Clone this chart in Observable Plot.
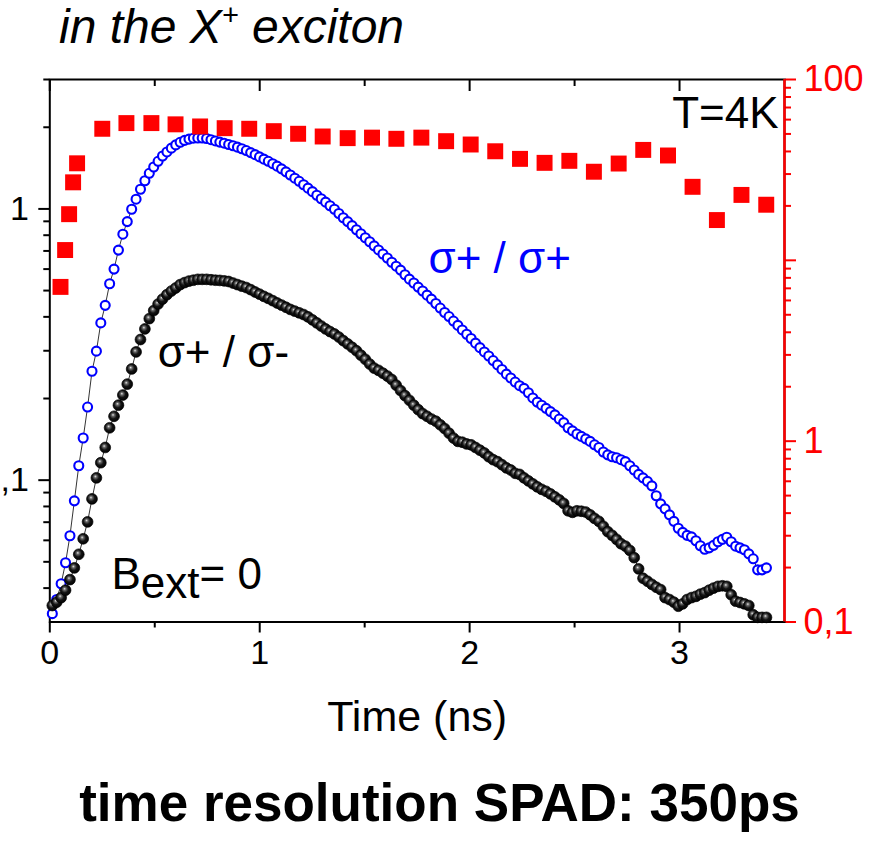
<!DOCTYPE html>
<html><head><meta charset="utf-8">
<script src="https://cdn.jsdelivr.net/npm/d3@7"></script>
<script src="https://cdn.jsdelivr.net/npm/@observablehq/plot@0.6"></script>
<style>
body{margin:0;background:#fff;font-family:"Liberation Sans",Arial,sans-serif;}
#wrap{width:879px;}
#title{height:60px;position:relative;}
#title span{position:absolute;left:59px;top:-1px;font-style:italic;font-size:48px;line-height:normal;white-space:nowrap;}
#title sup{font-size:0.6em;vertical-align:0;position:relative;top:-0.62em;line-height:0;}
#foot{height:95px;position:relative;}
#foot span{position:absolute;left:0;width:879px;text-align:center;top:12px;font-weight:bold;font-size:53px;line-height:normal;white-space:nowrap;}
</style></head><body>
<div id="wrap">
<div id="title"><span>in the X<sup>+</sup> exciton</span></div>
<div id="chart"></div>
<div id="foot"><span>time resolution SPAD: 350ps</span></div>
</div>
<script>
// ---- data ----
const sampleStart = 0.012;   // ns, first SPAD bin
const sampleStep = 0.021;    // ns, bin width
const coPolarized = [ // sigma+ / sigma+ (left axis)
0.0322,0.0363,0.0415,0.0496,0.0624,0.0839,0.113,0.143,0.186,0.252,
0.299,0.380,0.441,0.530,0.600,0.705,0.807,0.898,0.997,1.086,
1.182,1.270,1.353,1.427,1.498,1.567,1.622,1.675,1.722,1.760,
1.789,1.809,1.823,1.826,1.826,1.818,1.800,1.781,1.763,1.747,
1.728,1.709,1.689,1.667,1.641,1.613,1.585,1.555,1.526,1.498,
1.468,1.438,1.405,1.370,1.334,1.298,1.264,1.228,1.193,1.158,
1.123,1.090,1.059,1.027,0.997,0.962,0.928,0.898,0.868,0.838,
0.810,0.783,0.757,0.731,0.706,0.682,0.659,0.636,0.615,0.595,
0.572,0.551,0.533,0.515,0.498,0.481,0.465,0.448,0.431,0.415,
0.401,0.386,0.372,0.358,0.345,0.333,0.320,0.308,0.297,0.287,
0.276,0.266,0.256,0.246,0.238,0.230,0.223,0.218,0.210,0.201,
0.194,0.189,0.184,0.179,0.174,0.168,0.163,0.156,0.152,0.148,
0.145,0.142,0.139,0.135,0.132,0.127,0.124,0.122,0.121,0.119,
0.117,0.113,0.109,0.105,0.102,0.0990,0.0953,0.0876,0.0818,0.0784,
0.0745,0.0705,0.0665,0.0642,0.0626,0.0618,0.0598,0.0573,0.0556,0.0563,
0.0575,0.0593,0.0605,0.0616,0.0593,0.0571,0.0563,0.0554,0.0535,0.0513,
0.0467,0.0467,0.0475];
const crossPolarized = [ // sigma+ / sigma- (left axis)
0.0345,0.0355,0.0369,0.0393,0.0430,0.0475,0.0533,0.0608,0.0702,0.0853,
0.102,0.116,0.132,0.156,0.172,0.189,0.206,0.226,0.257,0.297,
0.330,0.361,0.394,0.422,0.446,0.465,0.483,0.498,0.511,0.526,
0.535,0.542,0.546,0.550,0.550,0.550,0.548,0.546,0.545,0.543,
0.540,0.533,0.526,0.519,0.513,0.504,0.494,0.485,0.476,0.468,
0.459,0.450,0.442,0.434,0.426,0.420,0.414,0.408,0.400,0.390,
0.380,0.370,0.361,0.353,0.346,0.337,0.327,0.318,0.309,0.300,
0.289,0.279,0.268,0.259,0.254,0.248,0.242,0.235,0.224,0.214,
0.205,0.197,0.189,0.182,0.176,0.172,0.168,0.165,0.160,0.155,
0.149,0.143,0.139,0.138,0.136,0.135,0.132,0.129,0.126,0.122,
0.119,0.117,0.114,0.111,0.109,0.106,0.105,0.102,0.0994,0.0969,
0.0945,0.0925,0.0910,0.0890,0.0868,0.0846,0.0821,0.0771,0.0761,0.0771,
0.0768,0.0763,0.0745,0.0723,0.0705,0.0676,0.0646,0.0626,0.0605,0.0583,
0.0571,0.0551,0.0518,0.0471,0.0435,0.0424,0.0413,0.0403,0.0395,0.0369,
0.0363,0.0355,0.0343,0.0350,0.0363,0.0369,0.0373,0.0380,0.0385,0.0393,
0.0400,0.0406,0.0408,0.0406,0.0378,0.0358,0.0354,0.0350,0.0345,0.0319,
0.0312,0.0312,0.0312];
const polTimes = [0.051,0.073,0.092,0.111,0.130,0.250,0.365,0.484,0.599,0.716,0.833,0.950,1.067,1.183,1.300,1.419,1.535,1.651,1.770,1.888,2.005,2.122,2.240,2.357,2.475,2.592,2.710,2.827,2.945,3.062,3.178,3.295,3.413];
const polValues = [7.13,11.4,18.0,27.0,34.4,53.4,57.4,57.4,56.5,55.0,53.8,53.4,51.8,50.1,48.4,47.4,47.7,47.0,47.7,45.6,43.7,40.1,36.4,34.6,35.5,30.9,34.3,40.8,38.0,25.5,16.7,23.0,20.3];

const xMajor = [0,1,2,3];
const xLabels = ["0","1","2","3"];
const xMinor = [0.5,1.5,2.5];
const leftMajor = [0.1,1];
const leftLabels = [",1","1"];
const leftMinor = [0.04,0.05,0.06,0.07,0.08,0.09,0.2,0.3,0.4,0.5,0.6,0.7,0.8,0.9,2,3];
const rightMajor = [0.1,1,10,100];
const rightLabels = ["0,1","1","10","100"];
const rightMinor = [0.2,0.3,0.4,0.5,0.6,0.7,0.8,0.9,2,3,4,5,6,7,8,9,20,30,40,50,60,70,80,90];

// ---- scales ----
const xDomain = [0, 3.5];
const leftDomain = [0.03, 3];
const rightDomain = [0.1, 100];
const L0 = Math.log10(leftDomain[0]), L1 = Math.log10(leftDomain[1]);
const R0 = Math.log10(rightDomain[0]), R1 = Math.log10(rightDomain[1]);
const toLeft = r => Math.pow(10, L0 + (Math.log10(r) - R0) * (L1 - L0) / (R1 - R0));

const coData = coPolarized.map((v, i) => ({t: sampleStart + i * sampleStep, v}));
const crossData = crossPolarized.map((v, i) => ({t: sampleStart + i * sampleStep, v}));
const polData = polTimes.map((t, i) => ({t, v: polValues[i]}));
const rightTicks = rightMajor.map(toLeft);

const RED = "#ff0000", BLUE = "#0000ff";
const FONT = "'Liberation Sans', Arial, sans-serif";

const chart = Plot.plot({
  width: 879, height: 700,
  marginLeft: 49.3, marginRight: 95, marginTop: 19, marginBottom: 138.5,
  x: {domain: xDomain},
  y: {type: "log", domain: leftDomain},
  style: {fontFamily: FONT, fontSize: "34px", background: "white", color: "black", overflow: "visible"},
  marks: [
    Plot.axisX({anchor: "bottom", ticks: xMajor, tickFormat: d => xLabels[xMajor.indexOf(d)], tickSize: 11, tickPadding: 7, strokeWidth: 2, fontSize: 34, label: null}),
    Plot.axisX({anchor: "bottom", ticks: xMinor, tickFormat: () => "", tickSize: 6, strokeWidth: 2, label: null}),
    Plot.axisX({anchor: "top", ticks: xMajor, tickFormat: () => "", tickSize: -11, strokeWidth: 2, label: null}),
    Plot.axisX({anchor: "top", ticks: xMinor, tickFormat: () => "", tickSize: -6, strokeWidth: 2, label: null}),
    Plot.axisY({anchor: "left", ticks: leftMajor, tickFormat: d => leftLabels[leftMajor.indexOf(d)], tickSize: 11, tickPadding: 10, strokeWidth: 2, fontSize: 34, label: null}),
    Plot.axisY({anchor: "left", ticks: leftMinor, tickFormat: () => "", tickSize: 6, strokeWidth: 2, label: null}),
    Plot.axisY({anchor: "right", ticks: rightTicks, tickFormat: d => rightLabels[rightTicks.indexOf(d)], tickSize: 11, tickPadding: 8, color: RED, strokeWidth: 2, fontSize: 36, label: null}),
    Plot.axisY({anchor: "right", ticks: rightMinor.map(toLeft), tickFormat: () => "", tickSize: 6, color: RED, strokeWidth: 2, label: null}),
    Plot.frame({stroke: "#000", strokeWidth: 2}),
    Plot.ruleX([xDomain[1]], {stroke: RED, strokeWidth: 2.5}),
    Plot.line(coData, {x: "t", y: "v", stroke: "#000", strokeWidth: 0.8}),
    Plot.line(crossData, {x: "t", y: "v", stroke: "#000", strokeWidth: 0.8}),
    Plot.dot(coData, {x: "t", y: "v", r: 4.5, stroke: BLUE, strokeWidth: 2.1, fill: "white"}),
    Plot.dot(crossData, {x: "t", y: "v", r: 5.4, fill: "url(#ball)", stroke: "#000", strokeWidth: 0.7}),
    Plot.dot(polData, {x: "t", y: d => toLeft(d.v), symbol: "square", r: 9, fill: RED, stroke: "none"}),
    Plot.text(["σ+ / σ+"], {x: () => 1.804, y: () => 0.58, textAnchor: "start", lineAnchor: "bottom", fill: BLUE, fontSize: 44}),
    Plot.text(["σ+ / σ-"], {x: () => 0.514, y: () => 0.261, textAnchor: "start", lineAnchor: "bottom", fill: "#000", fontSize: 44}),
    Plot.text(["Bext= 0"], {x: () => 0.294, y: () => 0.0398, textAnchor: "start", lineAnchor: "bottom", fill: "#000", fontSize: 44}),
    Plot.text(["T=4K"], {x: () => 3.472, y: () => 1.98, textAnchor: "end", lineAnchor: "bottom", fill: "#000", fontSize: 44}),
    Plot.text(["Time (ns)"], {frameAnchor: "bottom", dy: 108.5, lineAnchor: "bottom", fill: "#000", fontSize: 43})
  ]
});

// sphere-like shading for the cross-polarized markers
const svg = d3.select(chart);
const defs = svg.insert("defs", ":first-child");
const grad = defs.append("radialGradient").attr("id", "ball").attr("cx", "45%").attr("cy", "45%").attr("r", "58%").attr("fx", "40%").attr("fy", "36%");
grad.append("stop").attr("offset", "0%").attr("stop-color", "#e6e6e6");
grad.append("stop").attr("offset", "22%").attr("stop-color", "#6a6a6a");
grad.append("stop").attr("offset", "55%").attr("stop-color", "#141414");
grad.append("stop").attr("offset", "100%").attr("stop-color", "#000");

// subscript in "Bext= 0"
svg.selectAll("text").filter(function() { return this.textContent === "Bext= 0" && this.children.length === 0; }).each(function() {
  const t = d3.select(this);
  t.text("B");
  t.append("tspan").attr("dy", 9).text("ext");
  t.append("tspan").attr("dy", -9).text("= 0");
});

document.getElementById("chart").appendChild(chart);
</script>
</body></html>
